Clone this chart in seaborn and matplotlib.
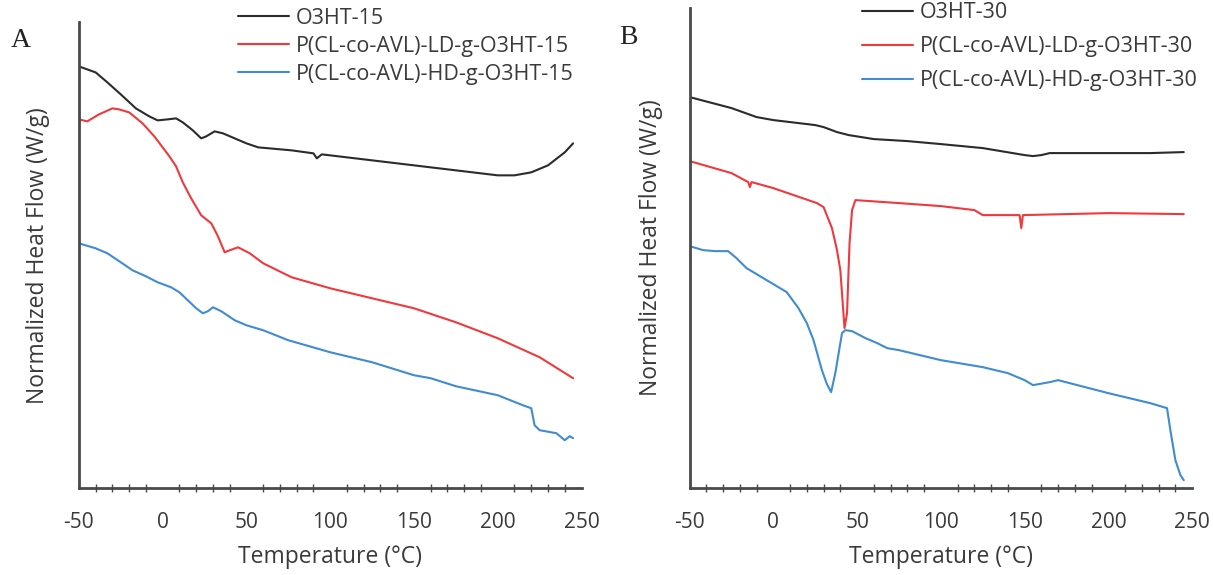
import numpy as np
import pandas as pd
import matplotlib
matplotlib.use("Agg")
import matplotlib.pyplot as plt
import seaborn as sns
from matplotlib.ticker import MultipleLocator

# ---------------- data (arbitrary normalized heat-flow units) ----------------
# Panel A
a_black_t = [-50, -40, -33, -25, -16, -8, -3, 3, 8, 12, 18, 23, 26, 31, 36, 43, 50, 57, 77, 90,
             92, 95, 100, 125, 150, 175, 200, 210, 220, 230, 240, 245]
a_black_y = [422, 416, 406, 394, 380, 372, 368, 369, 370, 366, 358, 350, 352, 357, 355, 350, 345,
             341, 338, 335, 330, 334, 333, 328, 323, 318, 313, 313, 316, 323, 336, 345]

a_red_t = [-50, -45, -38, -30, -26, -20, -12, -5, 0, 4, 8, 12, 17, 23, 29, 33, 37, 40, 45, 52, 60,
           77, 100, 125, 150, 175, 200, 225, 245]
a_red_y = [369, 367, 374, 380, 379, 376, 365, 352, 341, 332, 322, 306, 290, 273, 265, 252, 236,
           238, 241, 235, 225, 211, 200, 190, 180, 166, 150, 131, 110]

a_blue_t = [-50, -40, -33, -25, -18, -10, -3, 5, 10, 15, 20, 24, 27, 30, 35, 43, 50, 60, 75, 100,
            125, 150, 160, 175, 200, 215, 220, 222, 225, 235, 240, 243, 245]
a_blue_y = [245, 240, 235, 226, 218, 212, 206, 201, 196, 188, 180, 175, 177, 181, 177, 168, 163,
            158, 148, 136, 126, 113, 110, 102, 93, 83, 80, 63, 58, 55, 48, 52, 50]

# Panel B
b_black_t = [-50, -25, -10, 0, 25, 30, 38, 45, 60, 80, 100, 125, 150, 155, 160, 165, 175, 200,
             225, 245]
b_black_y = [391, 380, 371, 368, 363, 361, 356, 353, 349, 347, 344, 340, 333, 332, 333, 335, 335,
             335, 335, 336]

b_red_t = [-50, -25, -15, -14, -13, 0, 26, 30, 35, 38, 40, 42.5, 44, 45.5, 47, 49, 75, 100, 120,
           125, 147, 148, 149, 175, 200, 245]
b_red_y = [327, 315, 306, 301, 306, 300, 285, 281, 260, 238, 218, 160, 175, 245, 278, 288, 285,
           282, 278, 273, 273, 260, 273, 274, 275, 274]

b_blue_t = [-50, -42, -35, -27, -22, -16, -4, 8, 15, 20, 24, 29, 32, 34.5, 37, 41, 43, 47, 55, 62,
            68, 75, 100, 125, 140, 150, 155, 165, 170, 200, 225, 235, 237, 240, 243, 245]
b_blue_y = [242, 238, 237, 237, 230, 220, 208, 196, 180, 165, 148, 118, 104, 96, 115, 155, 158,
            157, 150, 145, 140, 138, 128, 121, 115, 108, 103, 106, 108, 95, 85, 80, 58, 28, 13, 8]

labels_a = ["O3HT-15", "P(CL-co-AVL)-LD-g-O3HT-15", "P(CL-co-AVL)-HD-g-O3HT-15"]
labels_b = ["O3HT-30", "P(CL-co-AVL)-LD-g-O3HT-30", "P(CL-co-AVL)-HD-g-O3HT-30"]
xticks = [-50, 0, 50, 100, 150, 200, 250]
colors = ["#2b2b2b", "#f0393c", "#3f8ccf"]

def make_df(ts, ys, labels):
    frames = []
    for t, y, lab in zip(ts, ys, labels):
        frames.append(pd.DataFrame({"T": t, "H": y, "series": lab}))
    return pd.concat(frames, ignore_index=True)

df_a = make_df([a_black_t, a_red_t, a_blue_t], [a_black_y, a_red_y, a_blue_y], labels_a)
df_b = make_df([b_black_t, b_red_t, b_blue_t], [b_black_y, b_red_y, b_blue_y], labels_b)

sns.set_theme(style="white")
plt.rcParams["font.family"] = ["Open Sans", "DejaVu Sans"]
plt.rcParams["axes.unicode_minus"] = False
axis_col = "#4a4a4a"
text_col = "#3a3a3a"

fig = plt.figure(figsize=(12.14, 5.75), dpi=100)
ax_a = fig.add_axes([0.065, 0.151, 0.414, 0.81])
ax_b = fig.add_axes([0.568, 0.151, 0.414, 0.835])

def style(ax, df, labels, ytop, leg_anchor, spacing, ypad, panel, panel_xy):
    sns.lineplot(data=df, x="T", y="H", hue="series", hue_order=labels,
                 palette=dict(zip(labels, colors)), sort=False, estimator=None,
                 linewidth=1.5, ax=ax)
    ax.set_xlim(-50, 250)
    ax.set_ylim(0, ytop)
    ax.set_xticks(xticks)
    ax.xaxis.set_minor_locator(MultipleLocator(10))
    ax.set_yticks([])
    for s in ["top", "right"]:
        ax.spines[s].set_visible(False)
    for s in ["left", "bottom"]:
        ax.spines[s].set_color(axis_col)
        ax.spines[s].set_linewidth(2)
    ax.tick_params(axis="x", which="major", direction="inout", length=12, width=1.5,
                   color=axis_col, labelsize=15, labelcolor=text_col, pad=11)
    ax.tick_params(axis="x", which="minor", direction="inout", length=6, width=1.0,
                   color=axis_col, bottom=True)
    ax.set_xlabel("Temperature (°C)", fontsize=16.5, color=text_col, labelpad=9)
    ax.set_ylabel("Normalized Heat Flow (W/g)", fontsize=16.5, color=text_col, labelpad=ypad)
    handles, labs = ax.get_legend_handles_labels()
    ax.legend(handles, labs, loc="upper left", bbox_to_anchor=leg_anchor, frameon=False,
              fontsize=15.5, handlelength=2.4, handletextpad=0.3, labelspacing=spacing,
              labelcolor=text_col, borderaxespad=0)
    fig.text(panel_xy[0], panel_xy[1], panel, fontsize=20, family="Liberation Serif",
             color="#222222", ha="left", va="center")

style(ax_a, df_a, labels_a, 466, (0.299, 1.05), 0.32, 21, "A", (0.009, 0.93))
style(ax_b, df_b, labels_b, 480, (0.325, 1.03), 0.6, 19, "B", (0.51, 0.934))

fig.savefig("out.png", dpi=100)
